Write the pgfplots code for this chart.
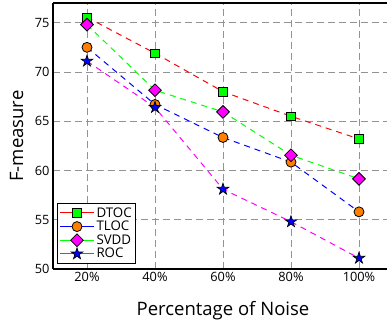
\documentclass[border=0pt]{standalone}
\usepackage{pgfplots}
\pgfplotsset{compat=1.18}
\usetikzlibrary{calc}
\usepackage{fontspec}
\setmainfont{Open Sans}
\definecolor{orng}{RGB}{255,128,0}
\definecolor{mag}{RGB}{255,0,255}
\definecolor{grn}{RGB}{0,255,0}
\definecolor{blu}{RGB}{0,0,255}
\definecolor{rd}{RGB}{255,0,0}
\pgfdeclareplotmark{fstar}{%
  \pgfpathmoveto{\pgfpoint{0pt}{\pgfplotmarksize}}%
  \pgfpathlineto{\pgfpoint{0.2245\pgfplotmarksize}{0.3090\pgfplotmarksize}}%
  \pgfpathlineto{\pgfpoint{0.9511\pgfplotmarksize}{0.3090\pgfplotmarksize}}%
  \pgfpathlineto{\pgfpoint{0.3633\pgfplotmarksize}{-0.1180\pgfplotmarksize}}%
  \pgfpathlineto{\pgfpoint{0.5878\pgfplotmarksize}{-0.8090\pgfplotmarksize}}%
  \pgfpathlineto{\pgfpoint{0pt}{-0.382\pgfplotmarksize}}%
  \pgfpathlineto{\pgfpoint{-0.5878\pgfplotmarksize}{-0.8090\pgfplotmarksize}}%
  \pgfpathlineto{\pgfpoint{-0.3633\pgfplotmarksize}{-0.1180\pgfplotmarksize}}%
  \pgfpathlineto{\pgfpoint{-0.9511\pgfplotmarksize}{0.3090\pgfplotmarksize}}%
  \pgfpathlineto{\pgfpoint{-0.2245\pgfplotmarksize}{0.3090\pgfplotmarksize}}%
  \pgfpathclose
  \pgfusepathqfillstroke}
\begin{document}
\begin{tikzpicture}
\begin{axis}[
  name=ax,
  scale only axis,
  width=340pt, height=266pt,
  xmin=0.5, xmax=5.5, ymin=50, ymax=77,
  axis x line*=box, axis y line*=left,
  axis line style={black, line width=1.3pt},
  xtick={1,2,3,4,5},
  xticklabels={20\%,40\%,60\%,80\%,100\%},
  ytick={50,55,60,65,70,75},
  tick style={draw=none},
  grid=major,
  major grid style={gray!85, dash pattern=on 7pt off 4pt, line width=0.9pt},
  /pgf/number format/assume math mode=true,
  ticklabel style={font=\fontsize{12.8}{15}\selectfont},
  xlabel={Percentage of Noise},
  ylabel={F-measure},
  label style={font=\fontsize{18.5}{21}\selectfont},
  xlabel style={at={(axis description cs:0.5,0)}, yshift=-46.5pt, anchor=base},
  ylabel style={at={(axis description cs:-0.088,0.5)}, anchor=base},
  legend style={at={(axis description cs:0.0118,0.019)}, anchor=south west, draw=black, line width=1pt,
    font=\fontsize{13.3}{15}\selectfont, row sep=-1.5pt, inner sep=2pt},
  legend cell align=left,
  legend image code/.code={%
    \draw[mark repeat=2, mark phase=2, solid, line width=1pt] plot coordinates {(0pt,0pt) (17pt,0pt) (34pt,0pt)};},
  clip=false,
]
\addplot[rd, line width=1pt, dash pattern=on 6pt off 5pt, mark=square*, mark size=4.3pt,
  mark options={solid, fill=grn, draw=black, line width=0.8pt}]
  coordinates {(1,75.55) (2,71.9) (3,68.0) (4,65.5) (5,63.2)};
\addlegendentry{DTOC}
\addplot[blu, line width=1pt, dash pattern=on 6pt off 5pt, mark=*, mark size=5pt,
  mark options={solid, fill=orng, draw=black, line width=0.8pt}]
  coordinates {(1,72.5) (2,66.7) (3,63.35) (4,60.85) (5,55.8)};
\addlegendentry{TLOC}
\addplot[grn, line width=1pt, dash pattern=on 6pt off 5pt, mark=square*, mark size=4.5pt,
  mark options={solid, rotate=45, fill=mag, draw=black, line width=0.8pt}]
  coordinates {(1,74.8) (2,68.15) (3,65.95) (4,61.55) (5,59.15)};
\addlegendentry{SVDD}
\addplot[mag, line width=1pt, dash pattern=on 6pt off 5pt, mark=fstar, mark size=6pt,
  mark options={solid, fill=blu, draw=black, line width=0.7pt}]
  coordinates {(1,71.1) (2,66.4) (3,58.1) (4,54.8) (5,51.1)};
\addlegendentry{ROC}
\end{axis}
\pgfresetboundingbox
\path ($(ax.south west)+(-53pt,-52pt)$) rectangle ($(ax.south west)+(334pt,269pt)$);
\end{tikzpicture}
\end{document}
